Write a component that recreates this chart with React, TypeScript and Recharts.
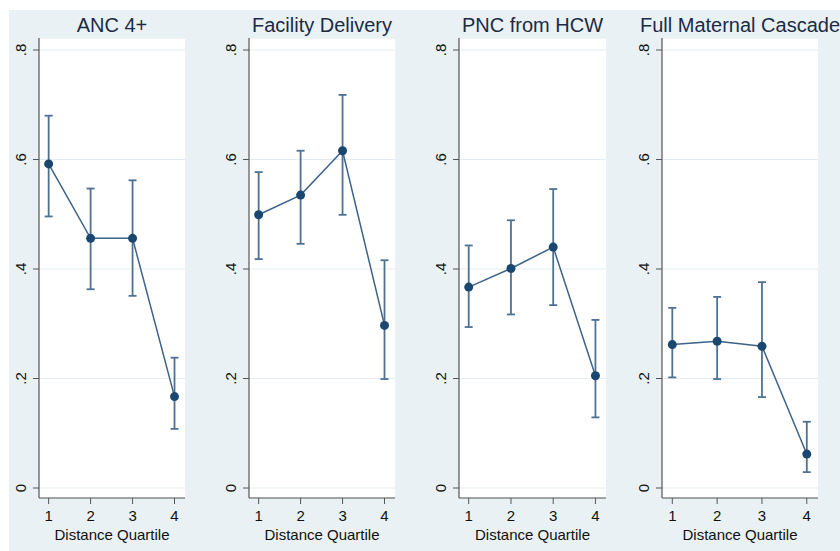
import React from 'react';
import { LineChart, Line, XAxis, YAxis, CartesianGrid, ErrorBar, Label } from 'recharts';

const QUARTILES = [1, 2, 3, 4];
const Y_TICKS = [0, 0.2, 0.4, 0.6, 0.8];
const TITLES = ['ANC 4+', 'Facility Delivery', 'PNC from HCW', 'Full Maternal Cascade'];

const ANC_EST = [0.592, 0.456, 0.456, 0.167];
const ANC_LO = [0.496, 0.363, 0.351, 0.108];
const ANC_HI = [0.68, 0.547, 0.562, 0.238];

const FAC_EST = [0.499, 0.535, 0.616, 0.297];
const FAC_LO = [0.418, 0.446, 0.499, 0.199];
const FAC_HI = [0.577, 0.616, 0.718, 0.416];

const PNC_EST = [0.367, 0.401, 0.44, 0.205];
const PNC_LO = [0.294, 0.317, 0.334, 0.129];
const PNC_HI = [0.443, 0.489, 0.546, 0.307];

const FULL_EST = [0.262, 0.268, 0.259, 0.062];
const FULL_LO = [0.202, 0.199, 0.166, 0.029];
const FULL_HI = [0.329, 0.349, 0.376, 0.121];

const SERIES = [
  { est: ANC_EST, lo: ANC_LO, hi: ANC_HI },
  { est: FAC_EST, lo: FAC_LO, hi: FAC_HI },
  { est: PNC_EST, lo: PNC_LO, hi: PNC_HI },
  { est: FULL_EST, lo: FULL_LO, hi: FULL_HI },
];

// plot-region placement for each panel (left edge, width)
const LAYOUT = [
  { left: 39, width: 146 },
  { left: 249, width: 146 },
  { left: 459, width: 147 },
  { left: 662, width: 156 },
];

const FONT = '"Liberation Sans", Arial, Helvetica, sans-serif';
const AXIS_W = 39;
const BG = '#e9f1f4';
const NAVY = '#1a476f';
const LINE = '#3d6388';
const BAR = '#4d7294';

const fmt = (v: number) => (v === 0 ? '0' : String(v).replace(/^0/, ''));

const YTick = (props: any) => {
  const { x, y, payload } = props;
  const bx = x - 7;
  return (
    <text
      x={bx}
      y={y}
      transform={`rotate(-90 ${bx} ${y})`}
      textAnchor="middle"
      fontSize={15}
      fontFamily={FONT}
      fill="#111"
    >
      {fmt(payload.value)}
    </text>
  );
};

function Panel({ idx }: { idx: number }) {
  const s = SERIES[idx];
  const { left, width } = LAYOUT[idx];
  const data = QUARTILES.map((q, i) => ({
    q,
    est: s.est[i],
    err: [s.est[i] - s.lo[i], s.hi[i] - s.est[i]],
  }));
  return (
    <>
      <div
        style={{
          position: 'absolute',
          left: left + width / 2,
          top: 15,
          transform: 'translateX(-50%)',
          whiteSpace: 'nowrap',
          fontFamily: FONT,
          fontSize: 20,
          lineHeight: '20px',
          color: '#1c2b45',
        }}
      >
        {TITLES[idx]}
      </div>
      <div style={{ position: 'absolute', left: left - AXIS_W, top: 0 }}>
        <LineChart
          width={AXIS_W + width}
          height={551}
          data={data}
          margin={{ top: 38, right: 0, bottom: 0, left: 0 }}
        >
          <CartesianGrid vertical={false} fill="#ffffff" stroke="#e3ecf0" strokeWidth={1} />
          <XAxis
            type="number"
            dataKey="q"
            domain={[0.77, 4.25]}
            ticks={QUARTILES}
            allowDataOverflow
            height={53}
            tickSize={6}
            tickMargin={6}
            axisLine={{ stroke: '#555', strokeWidth: 1.2 }}
            tickLine={{ stroke: '#555' }}
            tick={{ fontSize: 15, fill: '#111', fontFamily: FONT }}
          >
            <Label
              content={({ viewBox }: any) => (
                <text
                  x={viewBox.x + viewBox.width / 2}
                  y={viewBox.y + 42}
                  textAnchor="middle"
                  fontSize={15}
                  fontFamily={FONT}
                  fill="#111"
                >
                  Distance Quartile
                </text>
              )}
            />
          </XAxis>
          <YAxis
            type="number"
            domain={[-0.01826, 0.82192]}
            ticks={Y_TICKS}
            allowDataOverflow
            width={AXIS_W}
            tickSize={6}
            tickMargin={0}
            axisLine={{ stroke: '#555', strokeWidth: 1.2 }}
            tickLine={{ stroke: '#555' }}
            tick={<YTick />}
          />
          <Line
            dataKey="est"
            stroke={LINE}
            strokeWidth={1.5}
            dot={{ r: 4.5, fill: NAVY, stroke: NAVY, strokeWidth: 0 }}
            activeDot={false}
            isAnimationActive={false}
          >
            <ErrorBar dataKey="err" direction="y" width={4} stroke={BAR} strokeWidth={1.8} />
          </Line>
        </LineChart>
      </div>
    </>
  );
}

export default function App() {
  return (
    <div style={{ position: 'absolute', left: 0, top: 0, width: 840, height: 551, background: '#fff', overflow: 'hidden' }}>
      <div style={{ position: 'absolute', left: 9, top: 10, width: 831, height: 541, background: BG }} />
      {SERIES.map((_, i) => (
        <Panel key={i} idx={i} />
      ))}
    </div>
  );
}
